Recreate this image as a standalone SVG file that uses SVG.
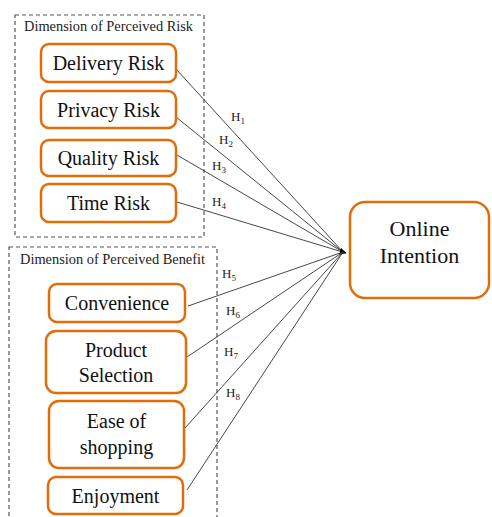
<svg xmlns="http://www.w3.org/2000/svg" width="492" height="517" viewBox="0 0 492 517">
<style>
.grp{fill:none;stroke:#555;stroke-width:1.2;stroke-dasharray:4,3}
.node{fill:#fff;stroke:#E36C0A;stroke-width:2.5}
.t{font-family:"Liberation Serif",serif;font-size:20px;fill:#111;text-anchor:middle}
.big{font-size:22px}
.title{font-family:"Liberation Serif",serif;font-size:14.4px;fill:#222}
.h{font-family:"Liberation Serif",serif;font-size:13px;fill:#222}
.sub{font-size:9px}
.c{fill:none;stroke:#333;stroke-width:0.9}
</style>
<defs>
<marker id="arr" viewBox="0 0 10 10" refX="9" refY="5" markerWidth="7" markerHeight="7" markerUnits="userSpaceOnUse" orient="auto">
<path d="M0,0 L10,5 L0,10 z" fill="#000"/>
</marker>
</defs>
<rect width="492" height="517" fill="#fff"/>
<g id="group-risk">
<rect class="grp" x="15" y="15" width="189" height="222"/>
<text class="title" x="24" y="31">Dimension of Perceived Risk</text>
</g>
<g id="group-benefit">
<rect class="grp" x="9" y="247" width="208" height="280"/>
<text class="title" x="20" y="264">Dimension of Perceived Benefit</text>
</g>
<g id="connectors">
<line class="c" x1="176" y1="69" x2="343" y2="252"/>
<line class="c" x1="176" y1="117" x2="343" y2="252"/>
<line class="c" x1="177" y1="155" x2="343" y2="252"/>
<line class="c" x1="177" y1="202" x2="346" y2="253" marker-end="url(#arr)"/>
<line class="c" x1="188" y1="306" x2="343" y2="252"/>
<line class="c" x1="187" y1="357" x2="343" y2="252"/>
<line class="c" x1="185" y1="428" x2="343" y2="252"/>
<line class="c" x1="187" y1="490" x2="343" y2="252"/>
<text class="h" x="231" y="121">H<tspan class="sub" dy="3">1</tspan></text>
<text class="h" x="219" y="144">H<tspan class="sub" dy="3">2</tspan></text>
<text class="h" x="212" y="170">H<tspan class="sub" dy="3">3</tspan></text>
<text class="h" x="212" y="206">H<tspan class="sub" dy="3">4</tspan></text>
<text class="h" x="222" y="278">H<tspan class="sub" dy="3">5</tspan></text>
<text class="h" x="226" y="315">H<tspan class="sub" dy="3">6</tspan></text>
<text class="h" x="224" y="356">H<tspan class="sub" dy="3">7</tspan></text>
<text class="h" x="226" y="397">H<tspan class="sub" dy="3">8</tspan></text>
</g>
<g id="delivery-risk">
<rect class="node" x="41" y="44" width="135" height="38" rx="8"/>
<text class="t" x="108.5" y="70">Delivery Risk</text>
</g>
<g id="privacy-risk">
<rect class="node" x="41" y="91" width="135" height="37" rx="8"/>
<text class="t" x="108.5" y="117">Privacy Risk</text>
</g>
<g id="quality-risk">
<rect class="node" x="41" y="140" width="135" height="36" rx="8"/>
<text class="t" x="108.5" y="165">Quality Risk</text>
</g>
<g id="time-risk">
<rect class="node" x="41" y="184" width="135" height="38" rx="8"/>
<text class="t" x="108.5" y="210">Time Risk</text>
</g>
<g id="convenience">
<rect class="node" x="49" y="284" width="136" height="38" rx="8"/>
<text class="t" x="117" y="310">Convenience</text>
</g>
<g id="product-selection">
<rect class="node" x="46" y="331" width="140" height="62" rx="10"/>
<text class="t" x="116" y="357">Product</text>
<text class="t" x="116" y="382">Selection</text>
</g>
<g id="ease-of-shopping">
<rect class="node" x="49" y="401" width="135" height="67" rx="10"/>
<text class="t" x="116.5" y="428">Ease of</text>
<text class="t" x="116.5" y="454">shopping</text>
</g>
<g id="enjoyment">
<rect class="node" x="48" y="477" width="135" height="37" rx="8"/>
<text class="t" x="115.5" y="503">Enjoyment</text>
</g>
<g id="online-intention">
<rect class="node" x="350" y="202" width="139" height="96" rx="15"/>
<text class="t big" x="419.5" y="236">Online</text>
<text class="t big" x="419.5" y="263">Intention</text>
</g>
</svg>
